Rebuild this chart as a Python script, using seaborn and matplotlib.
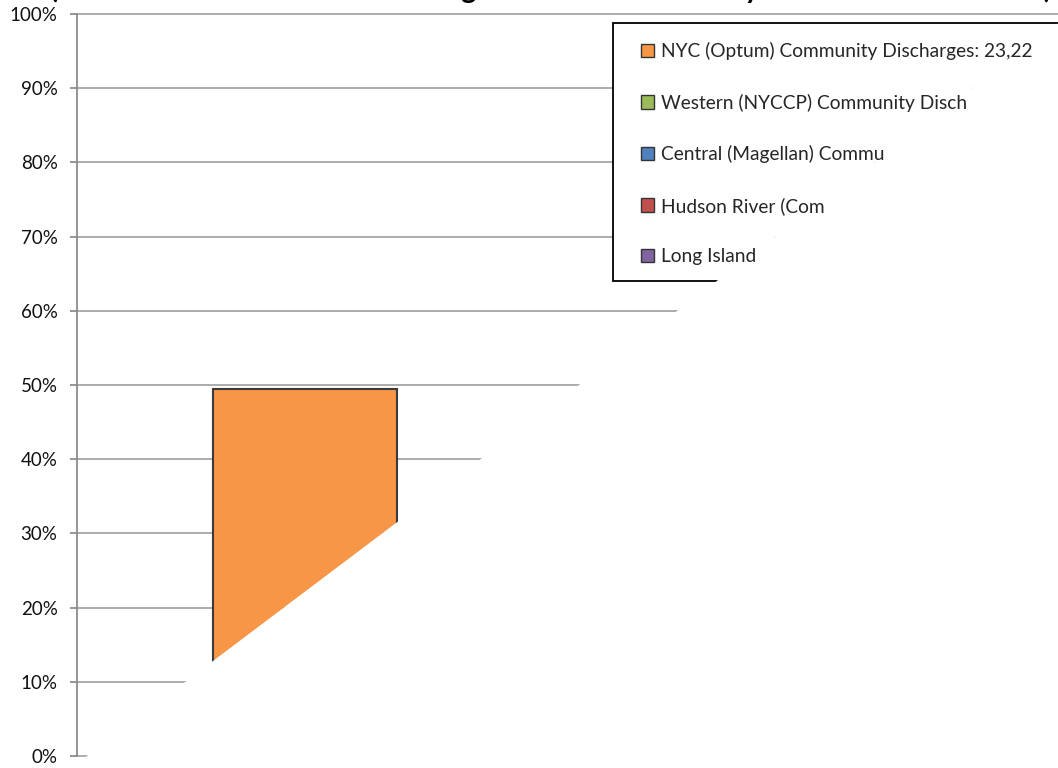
import numpy as np
import pandas as pd
import matplotlib
matplotlib.use("Agg")
import matplotlib.pyplot as plt
import seaborn as sns
from matplotlib.patches import Polygon, Rectangle, Patch
from matplotlib.transforms import IdentityTransform

# --- data / データ ---
regions = ["NYC (Optum)"]
share = [0.495]
legend_labels = [
    "NYC (Optum) Community Discharges: 23,22",
    "Western (NYCCP) Community Disch",
    "Central (Magellan) Commu",
    "Hudson River (Com",
    "Long Island",
]
legend_colors = ["#F79646", "#9BBB59", "#4F81BD", "#C0504D", "#8064A2"]
yticks = np.round(np.arange(0, 1.01, 0.1), 2)
ytick_labels = [f"{int(round(v * 100))}%" for v in yticks]
title = "(Adult Readmission Rates Among Medicaid Community Members in the State)"

W, H = 1058, 768
sns.set_style("white")
plt.rcParams['font.family'] = ['Lato', 'DejaVu Sans']

fig = plt.figure(figsize=(W / 100, H / 100), dpi=100)
ax = fig.add_axes([77 / W, 12 / H, (W - 77) / W, 742 / H])

df = pd.DataFrame({"region": regions, "share": share})
sns.barplot(data=df, x="region", y="share", color=legend_colors[0], saturation=1,
            width=0.8, edgecolor="#3a3a3a", linewidth=1.5, ax=ax, zorder=2)

# x scale: bar is 184 px wide, centred at 305 px
px_unit = 184 / 0.8
x0 = -(305 - 77) / px_unit
ax.set_xlim(x0, x0 + (W - 77) / px_unit)
ax.set_ylim(0, 1)
ax.set_xticks([])
ax.set_xlabel("")
ax.set_ylabel("")
ax.set_yticks(yticks)
ax.set_yticklabels(ytick_labels)
ax.yaxis.grid(True, color="#a6a6a6", linewidth=1.3)
ax.set_axisbelow(True)
for s in ["top", "right", "bottom"]:
    ax.spines[s].set_visible(False)
ax.spines["left"].set_color("#8c8c8c")
ax.spines["left"].set_linewidth(1.3)
ax.tick_params(axis="y", direction="out", length=5, width=1.3, color="#8c8c8c",
               pad=9, labelsize=13.5, labelcolor="#111111", left=True)

# legend box (white, partly wiped) / 凡例
legend_box = Rectangle((613, 487), 520, 258, transform=IdentityTransform(),
                       facecolor="white", edgecolor="black", linewidth=1.3, zorder=2)
fig.add_artist(legend_box)
handles = [Patch(facecolor=c, edgecolor="#333333", linewidth=1.0) for c in legend_colors]
fig.legend(handles, legend_labels, loc="upper left", bbox_to_anchor=(641 / W, 726 / H),
           frameon=False, borderpad=0, borderaxespad=0, fontsize=13.8,
           handlelength=0.68, handleheight=0.68, handletextpad=0.35, labelspacing=1.75)

fig.text(551 / W, 770 / H, title, ha="center", va="baseline", fontsize=20.8,
         fontweight="bold", color="black")

# diagonal wipe that hides the lower right part of the chart
def x_at(yd):
    return 87 + (yd - 12) * 1.326

clip = Polygon([(x_at(-50), -50), (x_at(900), 900), (-500, 900), (-500, -50)],
               closed=True, transform=IdentityTransform())

fig.canvas.draw()
for line in ax.get_ygridlines():
    line.set_clip_box(fig.bbox)
    line.set_clip_path(clip)
for p in ax.patches:
    p.set_clip_path(clip)
legend_box.set_clip_path(clip)

fig.savefig("out.png", dpi=100)
